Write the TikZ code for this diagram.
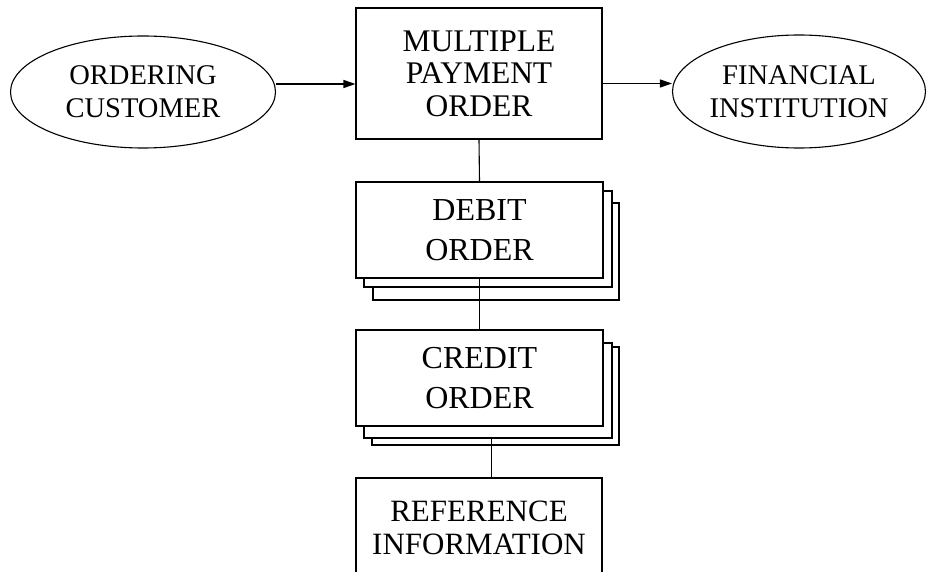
\documentclass[tikz,border=0pt]{standalone}
\usepackage{fontspec}
\setmainfont{Liberation Serif}
\usetikzlibrary{shapes.geometric,arrows.meta}

\begin{document}
\begin{tikzpicture}[x=1pt,y=-1pt,line width=1.1pt,
  oval/.style={draw,ellipse,inner sep=0pt,align=center,
    font=\fontsize{28.5}{33}\selectfont},
  box/.style={draw,fill=white,rectangle,inner sep=0pt,align=center},
  sheet/.style={draw,fill=white,rectangle,inner sep=0pt},
  stacktext/.style={font=\fontsize{32}{40}\selectfont},
  arrow/.style={-{Triangle[length=12pt,width=8pt]}}]
\useasboundingbox (0,0) rectangle (930,572);
\clip (0,0) rectangle (930,572);

% parties
\node[oval,minimum width=265pt,minimum height=112pt] (oc) at (143,92)
  {ORDERING\\CUSTOMER};
\node[oval,minimum width=244pt,minimum height=113pt] (fi) at (799,91.5)
  {FINANCIAL\\INSTITUTION};

% main order
\node[box,minimum width=246pt,minimum height=131pt,
  font=\fontsize{31.5}{32.5}\selectfont] (mpo) at (479,73.5)
  {MULTIPLE\\PAYMENT\\ORDER};

% debit order stack
\node[sheet,minimum width=246pt,minimum height=97pt] (debit3) at (496,251.5) {};
\node[sheet,minimum width=248pt,minimum height=96pt] (debit2) at (488,239) {};
\node[box,stacktext,minimum width=247pt,minimum height=96pt] (debit) at (479.5,230)
  {DEBIT\\ORDER};

% credit order stack
\node[sheet,minimum width=247pt,minimum height=98pt] (credit3) at (495.5,396) {};
\node[sheet,minimum width=248pt,minimum height=95pt] (credit2) at (488,390.5) {};
\node[box,stacktext,minimum width=247pt,minimum height=96pt] (credit) at (479.5,378)
  {CREDIT\\ORDER};

% reference information
\node[box,minimum width=246pt,minimum height=99pt,
  font=\fontsize{31}{33}\selectfont] (ref) at (479,527.5)
  {REFERENCE\\INFORMATION};

% connectors
\draw[arrow] ([yshift=8pt]oc.east) -- ([yshift=8pt]oc.east -| mpo.west);
\draw[arrow] ([yshift=8pt]fi.west -| mpo.east) -- ([yshift=8pt]fi.west);
\draw (mpo.south) -- (debit.north);
\draw (debit.south) -- (credit.north);
\draw ([xshift=-4pt]credit3.south |- credit2.south) -- ([xshift=-4pt]credit3.south |- ref.north);
\end{tikzpicture}
\end{document}
